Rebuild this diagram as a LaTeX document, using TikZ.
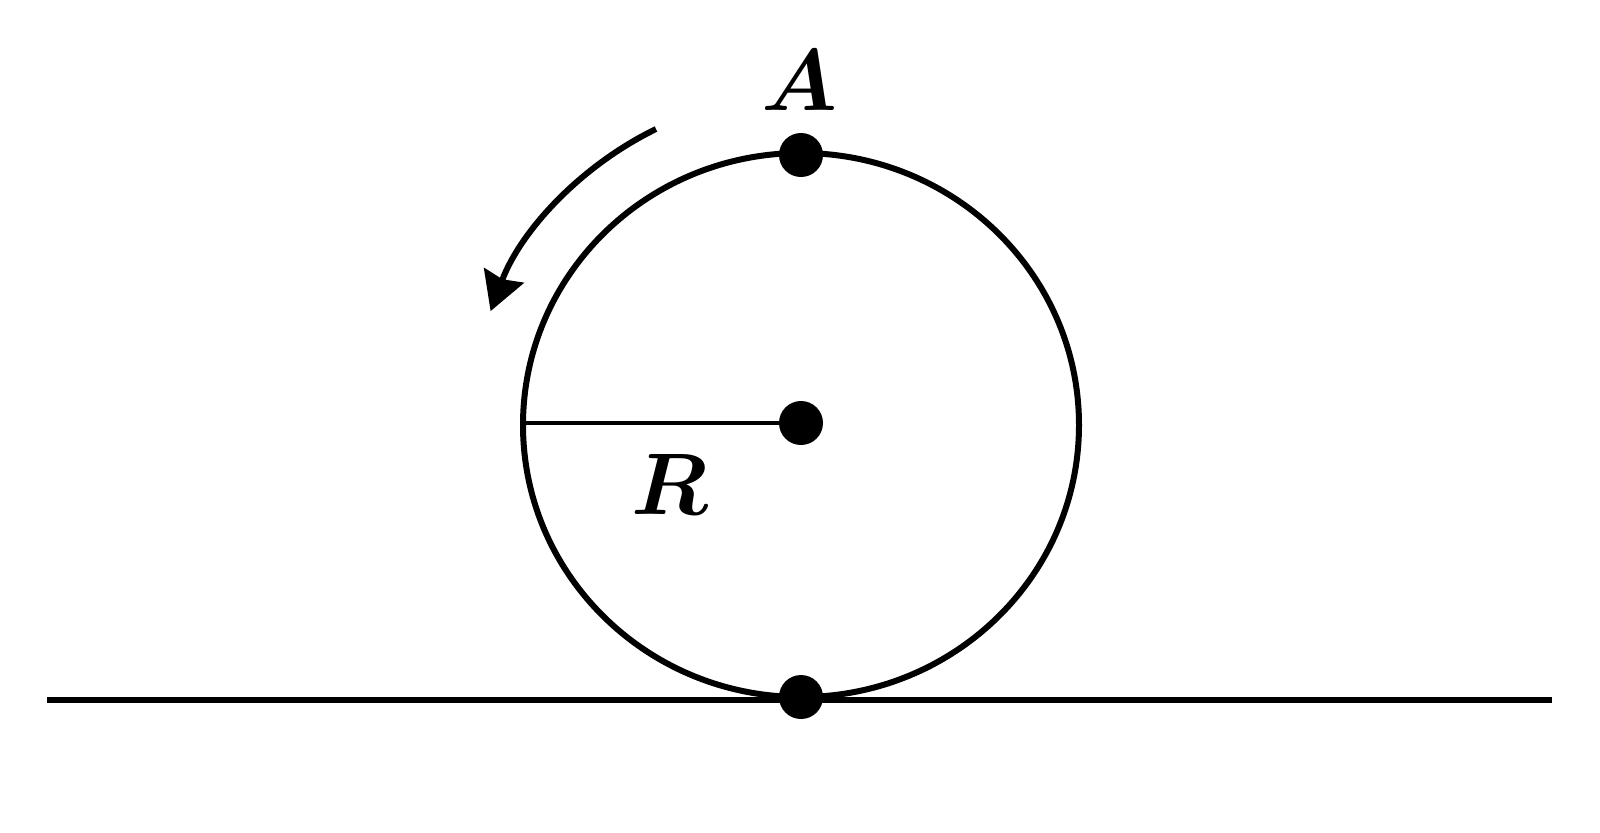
\documentclass[tikz,border=0pt]{standalone}
\usepackage{amsmath,bm}
\usetikzlibrary{arrows.meta,calc}
\tikzset{
  thick line/.style={line width=0.6mm, black},
  thin line/.style={line width=0.42mm, black},
  pdot/.style={circle, fill=black, inner sep=0pt, minimum size=4.4mm},
  lbl/.style={inner sep=0pt, font=\fontsize{27}{31}\selectfont}
}
\begin{document}
\begin{tikzpicture}[x=0.1mm,y=-0.1mm]
\useasboundingbox (0,0) rectangle (1600,832);
\coordinate (C) at (801,425);
\draw[thick line] (C) ellipse [x radius=278, y radius=272];
\coordinate (gl) at (47,700);
\coordinate (gr) at (1552,700);
\draw[thick line] (gl) -- (gr);
\coordinate (L) at (523,423);
\node[pdot] (O) at (801,423) {};
\node[pdot] (Atop) at (801,155) {};
\node[pdot] (B) at (801,697) {};
\draw[thin line] (L) -- (O.center);
\node[lbl] (A) at (800,80) {$\bm{A}$};
\node[lbl] (R) at (670,484) {$\bm{R}$};
\coordinate (as) at (656,129);
\draw[thick line, -{Stealth[length=3.8mm, width=4.2mm, inset=0.4mm]}]
  (as) arc[start angle=-116, end angle=-159.5, radius=332];
\end{tikzpicture}
\end{document}
